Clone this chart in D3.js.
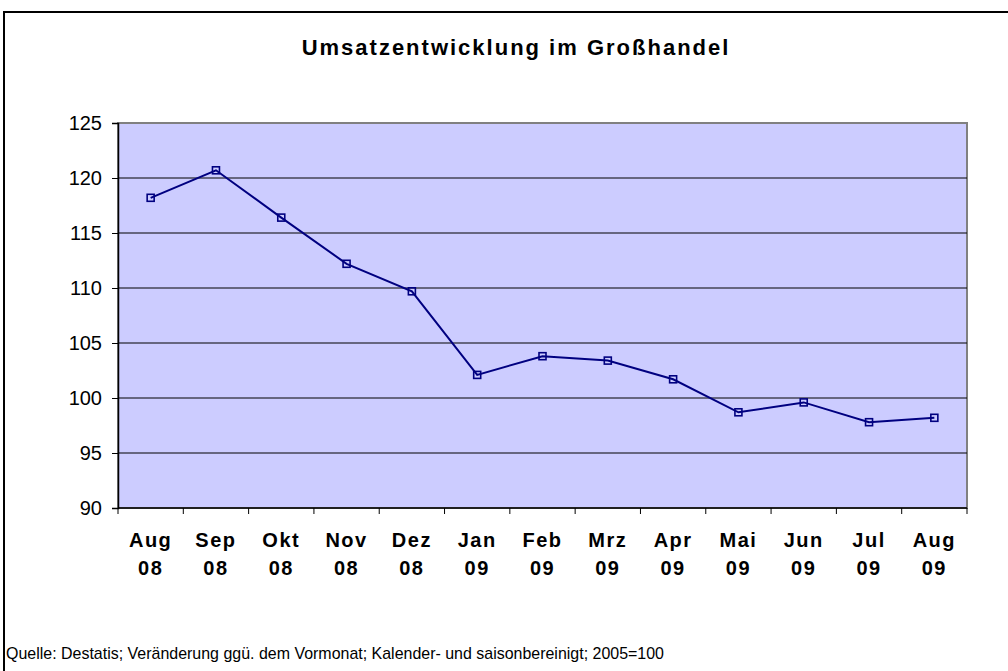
<!DOCTYPE html>
<html>
<head>
<meta charset="utf-8">
<script src="https://cdn.jsdelivr.net/npm/d3@7"></script>
<style>
body { margin: 0; background: #fff; }
text { font-family: "Liberation Sans", Arial, sans-serif; }
</style>
</head>
<body>
<script>
// Daten
var monate = ["Aug", "Sep", "Okt", "Nov", "Dez", "Jan", "Feb", "Mrz", "Apr", "Mai", "Jun", "Jul", "Aug"];
var jahre = ["08", "08", "08", "08", "08", "09", "09", "09", "09", "09", "09", "09", "09"];
var umsatz = [118.2, 120.7, 116.4, 112.2, 109.7, 102.1, 103.8, 103.4, 101.7, 98.7, 99.6, 97.8, 98.2];
var yTicks = [90, 95, 100, 105, 110, 115, 120, 125];

var width = 1008, height = 671;
var plot = {left: 118, right: 967, top: 123, bottom: 508};

var svg = d3.select("body").append("svg")
	.attr("width", width)
	.attr("height", height);

// Rahmen
svg.append("rect")
	.attr("x", 4).attr("y", 12)
	.attr("width", 1010).attr("height", 670)
	.attr("fill", "#fff")
	.attr("stroke", "#000")
	.attr("stroke-width", 2);

var keys = d3.range(umsatz.length);
var x = d3.scaleBand().domain(keys).range([plot.left, plot.right]);
var y = d3.scaleLinear().domain([90, 125]).range([plot.bottom, plot.top]);

// Hintergrund Plotfläche
svg.append("rect")
	.attr("x", plot.left).attr("y", plot.top)
	.attr("width", plot.right - plot.left)
	.attr("height", plot.bottom - plot.top)
	.attr("fill", "#CCCCFF")
	.attr("stroke", "#808080")
	.attr("stroke-width", 2);

// Gitterlinien
svg.append("g").selectAll("line")
	.data(yTicks.filter(d => d > 90 && d < 125))
	.join("line")
	.attr("x1", plot.left).attr("x2", plot.right)
	.attr("y1", d => y(d)).attr("y2", d => y(d))
	.attr("stroke", "#000")
	.attr("stroke-width", 1);

// Y-Achse
var yAxis = svg.append("g")
	.attr("transform", "translate(" + plot.left + ",0)")
	.call(d3.axisLeft(y).tickValues(yTicks).tickSize(6).tickPadding(10));
yAxis.select(".domain").attr("stroke", "#000").attr("stroke-width", 1.5);
yAxis.selectAll(".tick line").attr("stroke", "#000");
yAxis.selectAll("text").attr("font-size", 20).attr("fill", "#000")
	.style("font-family", "'Liberation Sans', Arial, sans-serif");

// X-Achse mit Ticks an Bandgrenzen
var xAxis = svg.append("g")
	.attr("transform", "translate(0," + plot.bottom + ")");
xAxis.append("line")
	.attr("x1", plot.left).attr("x2", plot.right)
	.attr("stroke", "#000").attr("stroke-width", 1.5);
xAxis.selectAll(".tk")
	.data(keys.concat([umsatz.length]))
	.join("line")
	.attr("class", "tk")
	.attr("x1", d => d < umsatz.length ? x(d) : plot.right)
	.attr("x2", d => d < umsatz.length ? x(d) : plot.right)
	.attr("y1", 0).attr("y2", 6)
	.attr("stroke", "#000");

var lbl = svg.append("g").selectAll("text")
	.data(keys)
	.join("text")
	.attr("text-anchor", "middle")
	.attr("font-size", 20)
	.attr("font-weight", "bold")
	.attr("letter-spacing", 1.5);
lbl.append("tspan")
	.attr("x", d => x(d) + x.bandwidth() / 2)
	.attr("y", 547)
	.text(d => monate[d]);
lbl.append("tspan")
	.attr("x", d => x(d) + x.bandwidth() / 2)
	.attr("y", 575)
	.text(d => jahre[d]);

// Linie
var line = d3.line()
	.x((d, i) => x(i) + x.bandwidth() / 2)
	.y(d => y(d));
svg.append("path")
	.datum(umsatz)
	.attr("d", line)
	.attr("fill", "none")
	.attr("stroke", "#000080")
	.attr("stroke-width", 2);

// Marker
svg.append("g").selectAll("rect")
	.data(umsatz)
	.join("rect")
	.attr("x", (d, i) => x(i) + x.bandwidth() / 2 - 3.5)
	.attr("y", d => y(d) - 3.5)
	.attr("width", 7).attr("height", 7)
	.attr("fill", "none")
	.attr("stroke", "#000080")
	.attr("stroke-width", 1.6);

// Titel
svg.append("text")
	.attr("x", 516).attr("y", 55)
	.attr("text-anchor", "middle")
	.attr("font-size", 22)
	.attr("font-weight", "bold")
	.attr("letter-spacing", 2)
	.text("Umsatzentwicklung im Großhandel");

// Quelle
svg.append("text")
	.attr("x", 6).attr("y", 659)
	.attr("font-size", 17)
	.attr("textLength", 658)
	.attr("lengthAdjust", "spacingAndGlyphs")
	.text("Quelle: Destatis; Veränderung ggü. dem Vormonat; Kalender- und saisonbereinigt; 2005=100");
</script>
</body>
</html>
